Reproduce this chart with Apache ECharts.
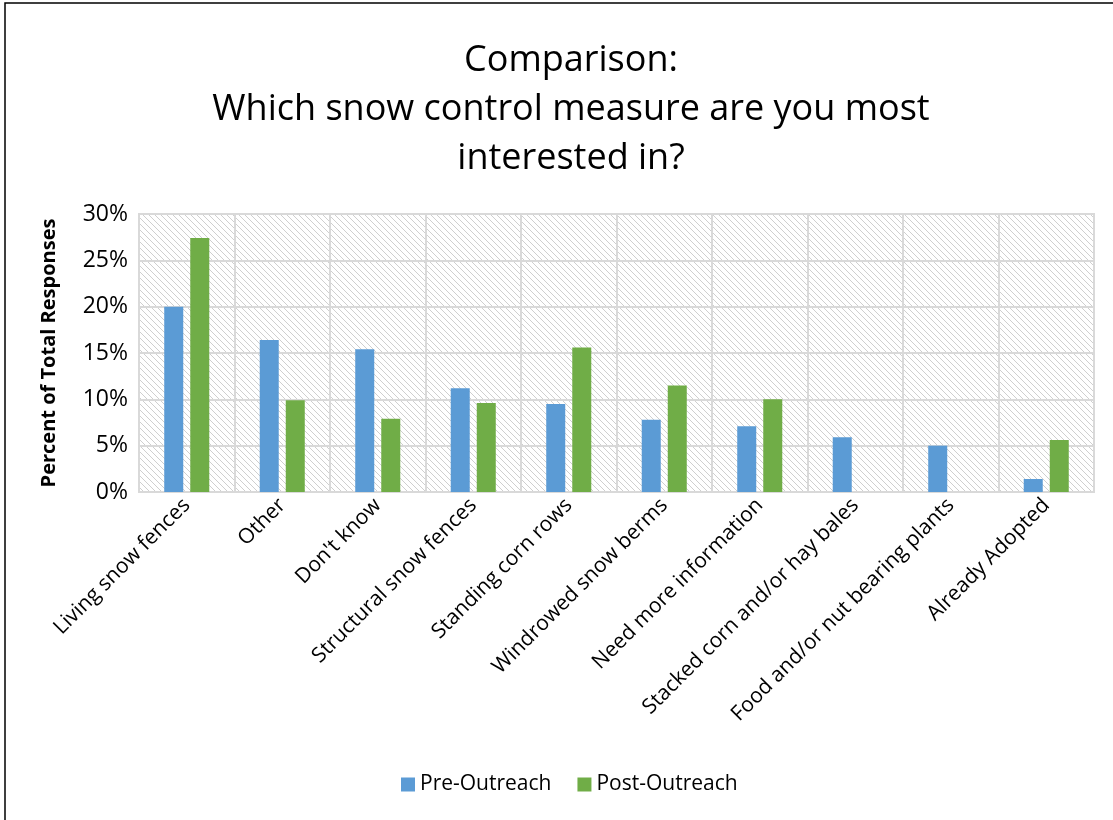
<!DOCTYPE html>
<html>
<head>
<meta charset="utf-8">
<script src="https://cdn.jsdelivr.net/npm/echarts@6/dist/echarts.min.js"></script>
<style>
html,body{margin:0;padding:0;background:#fff;}
#c{width:1113px;height:820px;}
</style>
</head>
<body>
<div id="c"></div>
<script>
const categories = ["Living snow fences","Other","Don't know","Structural snow fences","Standing corn rows","Windrowed snow berms","Need more information","Stacked corn and/or hay bales","Food and/or nut bearing plants","Already Adopted"];
const preOutreach = [20.0, 16.4, 15.4, 11.2, 9.5, 7.8, 7.1, 5.9, 5.0, 1.4];
const postOutreach = [27.4, 9.9, 7.9, 9.6, 15.6, 11.5, 10.0, null, null, 5.6];
const seriesNames = ["Pre-Outreach","Post-Outreach"];
const yTicks = [0, 5, 10, 15, 20, 25, 30];

const FONT = "Open Sans";

// hatch pattern
const pc = document.createElement('canvas');
pc.width = 6; pc.height = 6;
const pctx = pc.getContext('2d');
pctx.fillStyle = '#ffffff';
pctx.fillRect(0,0,6,6);
pctx.strokeStyle = '#cfcfcf';
pctx.lineWidth = 1;
pctx.beginPath();
pctx.moveTo(0,0); pctx.lineTo(6,6);
pctx.moveTo(-3,3); pctx.lineTo(3,9);
pctx.moveTo(3,-3); pctx.lineTo(9,3);
pctx.stroke();

const chart = echarts.init(document.getElementById('c'));
chart.setOption({
  animation: false,
  textStyle: { fontFamily: FONT },
  title: {
    text: "Comparison:\nWhich snow control measure are you most\ninterested in?",
    left: 566, top: 31, textAlign: 'center',
    textStyle: { fontFamily: FONT, fontSize: 36, fontWeight: 'normal', color: '#000', lineHeight: 49 }
  },
  graphic: [{
    type: 'rect', shape: { x: 5, y: 3, width: 1300, height: 1000 },
    style: { fill: 'none', stroke: '#000', lineWidth: 1.5 }, silent: true
  }],
  legend: {
    data: seriesNames, bottom: 20, left: 396, itemWidth: 14, itemHeight: 14, itemGap: 26,
    icon: 'rect',
    textStyle: { fontFamily: FONT, fontSize: 21, color: '#000' }
  },
  grid: {
    left: 139, right: 19, top: 214, bottom: 328,
    show: true, backgroundColor: { image: pc, repeat: 'repeat' }, borderColor: '#d9d9d9', borderWidth: 2
  },
  xAxis: {
    type: 'category', data: categories,
    axisLine: { show: true, lineStyle: { color: '#d9d9d9', width: 2 } },
    axisTick: { show: false },
    splitLine: { show: true, lineStyle: { color: '#d9d9d9', width: 2 } },
    axisLabel: { rotate: 45, interval: 0, fontFamily: FONT, fontSize: 21, color: '#000', margin: 10 }
  },
  yAxis: {
    type: 'value', min: 0, max: 30, interval: 5,
    name: 'Percent of Total Responses', nameLocation: 'middle', nameGap: 80, nameRotate: 90,
    nameTextStyle: { fontFamily: FONT, fontSize: 20, fontWeight: 'bold', color: '#000' },
    axisLine: { show: false }, axisTick: { show: false },
    splitLine: { lineStyle: { color: '#d9d9d9', width: 2 } },
    axisLabel: { formatter: v => v + '%', fontFamily: FONT, fontSize: 23, color: '#000', margin: 11 }
  },
  series: [
    { name: seriesNames[0], type: 'bar', data: preOutreach, barWidth: 19, barGap: '37%', itemStyle: { color: '#5b9bd5' } },
    { name: seriesNames[1], type: 'bar', data: postOutreach, barWidth: 19, itemStyle: { color: '#70ad47' } }
  ]
});
</script>
</body>
</html>
